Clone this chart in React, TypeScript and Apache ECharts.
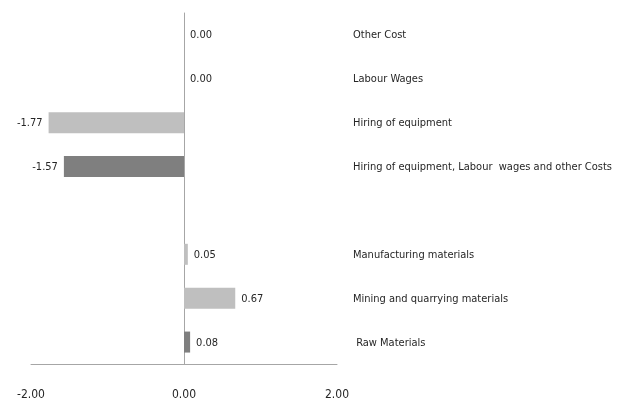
import React, { useEffect, useRef } from "react";
import * as echarts from "echarts";

// bottom-to-top order (ECharts category axis order)
const categories = [
  " Raw Materials",
  "Mining and quarrying materials",
  "Manufacturing materials",
  "",
  "Hiring of equipment, Labour  wages and other Costs",
  "Hiring of equipment",
  "Labour Wages",
  "Other Cost",
];
const values: (number | null)[] = [0.08, 0.67, 0.05, null, -1.57, -1.77, 0.0, 0.0];
const shades = ["dark", "light", "light", "light", "dark", "light", "light", "light"];
const xTicks = [-2, 0, 2];

const LIGHT = "#bfbfbf";
const DARK = "#7f7f7f";
const FONT = "'DejaVu Sans Condensed', 'Liberation Sans Narrow', sans-serif";

export default function App() {
  const ref = useRef<HTMLDivElement>(null);
  useEffect(() => {
    if (!ref.current) return;
    const chart = echarts.init(ref.current, undefined, { renderer: "svg" });
    chart.setOption({
      animation: false,
      grid: {
        left: 31,
        right: 288,
        top: 13,
        bottom: 38,
        containLabel: false,
        outerBoundsMode: "none",
      },
      xAxis: {
        type: "value",
        min: xTicks[0],
        max: xTicks[xTicks.length - 1],
        interval: 2,
        splitLine: { show: false },
        axisTick: { show: false },
        axisLine: { show: true, onZero: false, lineStyle: { color: "#a6a6a6", width: 1 } },
        axisLabel: {
          margin: 24,
          color: "#262626",
          fontFamily: FONT,
          fontSize: 12,
          formatter: (v: number) => v.toFixed(2),
        },
      },
      yAxis: [
        {
          type: "category",
          data: categories,
          axisLine: { show: true, onZero: true, lineStyle: { color: "#a6a6a6", width: 1 } },
          axisTick: { show: false },
          axisLabel: { show: false },
          splitLine: { show: false },
        },
        {
          type: "category",
          data: categories,
          position: "right",
          axisLine: { show: false },
          axisTick: { show: false },
          splitLine: { show: false },
          axisLabel: {
            show: true,
            align: "left",
            margin: 16,
            color: "#262626",
            fontFamily: FONT,
            fontSize: 11,
          },
        },
      ],
      series: [
        {
          type: "bar",
          yAxisIndex: 0,
          barWidth: 21,
          data: values.map((v, i) =>
            v === null
              ? null
              : {
                  value: v,
                  itemStyle: { color: shades[i] === "dark" ? DARK : LIGHT },
                  label: {
                    show: true,
                    position: v < 0 ? "left" : "right",
                    distance: 6,
                    color: "#262626",
                    fontFamily: FONT,
                    fontSize: 11,
                    formatter: () => v.toFixed(2),
                  },
                }
          ),
        },
      ],
    });
    return () => chart.dispose();
  }, []);
  return <div ref={ref} style={{ width: 625, height: 402, position: "fixed", left: 0, top: 0 }} />;
}
